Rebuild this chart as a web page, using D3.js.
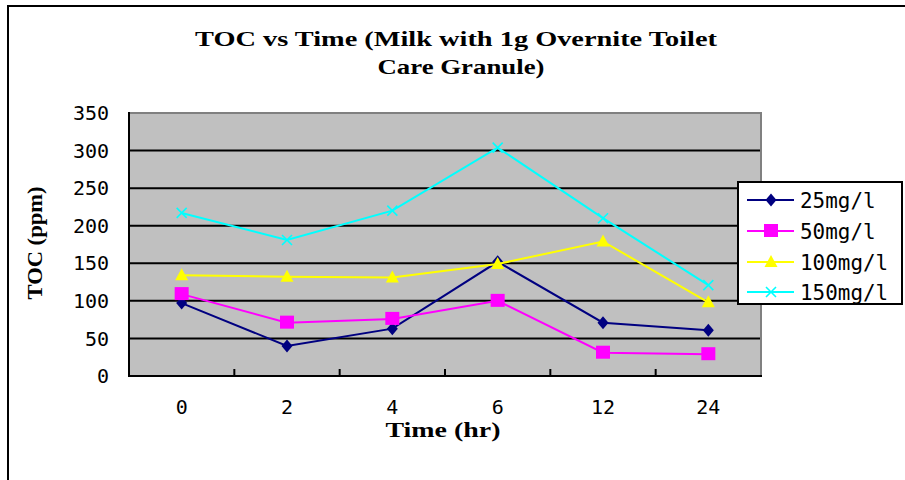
<!DOCTYPE html>
<html>
<head>
<meta charset="utf-8">
<script src="https://cdn.jsdelivr.net/npm/d3@7"></script>
<style>
  html, body { margin: 0; padding: 0; background: #fff; }
  svg { display: block; }
</style>
</head>
<body>
<svg id="chart" width="905" height="480"></svg>
<script>
// Sampling times (hours) and TOC readings (ppm) per dose
const times = ["0", "2", "4", "6", "12", "24"];
const seriesNames = ["25mg/l", "50mg/l", "100mg/l", "150mg/l"];
const toc25 = [97, 40, 63, 152, 71, 61];
const toc50 = [109, 71, 76, 100, 31, 29];
const toc100 = [134, 132, 131, 149, 179, 98];
const toc150 = [217, 181, 220, 304, 210, 121];
const yTicks = [0, 50, 100, 150, 200, 250, 300, 350];

const seriesValues = [toc25, toc50, toc100, toc150];
const colors = ["#000080", "#FF00FF", "#FFFF00", "#00FFFF"];
const markers = ["diamond", "square", "triangle", "cross"];

const svg = d3.select("#chart");

// outer chart frame (top and left edges visible)
svg.append("line").attr("x1", 7).attr("x2", 905).attr("y1", 6).attr("y2", 6)
  .attr("stroke", "#000").attr("stroke-width", 2);
svg.append("line").attr("x1", 8).attr("x2", 8).attr("y1", 5).attr("y2", 480)
  .attr("stroke", "#000").attr("stroke-width", 2);

const plot = { left: 129, right: 761, top: 113, bottom: 376 };

const x = d3.scaleBand().domain(times).range([plot.left, plot.right]).padding(0);
const y = d3.scaleLinear().domain([0, 350]).range([plot.bottom, plot.top]);

// plot background
svg.append("rect")
  .attr("x", plot.left).attr("y", plot.top)
  .attr("width", plot.right - plot.left).attr("height", plot.bottom - plot.top)
  .attr("fill", "#C0C0C0");

// horizontal gridlines
svg.append("g").selectAll("line")
  .data(yTicks.filter(v => v > 0 && v < 350))
  .join("line")
  .attr("x1", plot.left).attr("x2", plot.right)
  .attr("y1", d => y(d)).attr("y2", d => y(d))
  .attr("stroke", "#000").attr("stroke-width", 2);

// top and right plot edges (grey)
svg.append("line").attr("x1", plot.left).attr("x2", plot.right + 1)
  .attr("y1", plot.top).attr("y2", plot.top)
  .attr("stroke", "#808080").attr("stroke-width", 2);
svg.append("line").attr("x1", plot.right).attr("x2", plot.right)
  .attr("y1", plot.top).attr("y2", plot.bottom)
  .attr("stroke", "#808080").attr("stroke-width", 2);

// x-axis ticks between categories (pointing into the plot)
svg.append("g").selectAll("line")
  .data(times.slice(1))
  .join("line")
  .attr("x1", d => x(d)).attr("x2", d => x(d))
  .attr("y1", plot.bottom).attr("y2", plot.bottom - 7)
  .attr("stroke", "#000").attr("stroke-width", 2);

// axis lines
svg.append("line").attr("x1", plot.left).attr("x2", plot.left)
  .attr("y1", plot.top - 1).attr("y2", plot.bottom + 1)
  .attr("stroke", "#000").attr("stroke-width", 2);
svg.append("line").attr("x1", plot.left - 1).attr("x2", plot.right + 1)
  .attr("y1", plot.bottom).attr("y2", plot.bottom)
  .attr("stroke", "#000").attr("stroke-width", 2);

// y tick labels
svg.append("g").selectAll("text")
  .data(yTicks)
  .join("text")
  .attr("x", 109).attr("y", d => y(d))
  .attr("dy", "0.36em")
  .attr("text-anchor", "end")
  .attr("font-family", "DejaVu Sans Mono")
  .attr("font-size", 20)
  .attr("fill", "#000")
  .text(d => d);

// x tick labels
svg.append("g").selectAll("text")
  .data(times)
  .join("text")
  .attr("x", d => x(d) + x.bandwidth() / 2).attr("y", 414)
  .attr("text-anchor", "middle")
  .attr("font-family", "DejaVu Sans Mono")
  .attr("font-size", 20)
  .attr("fill", "#000")
  .text(d => d);

// titles
const boldFont = "Liberation Serif";
svg.append("text").attr("x", 456).attr("y", 46)
  .attr("text-anchor", "middle").attr("font-family", boldFont)
  .attr("font-weight", "bold").attr("font-size", 20)
  .attr("textLength", 522).attr("lengthAdjust", "spacingAndGlyphs")
  .text("TOC vs Time (Milk with 1g Overnite Toilet");
svg.append("text").attr("x", 461).attr("y", 74)
  .attr("text-anchor", "middle").attr("font-family", boldFont)
  .attr("font-weight", "bold").attr("font-size", 20)
  .attr("textLength", 167).attr("lengthAdjust", "spacingAndGlyphs")
  .text("Care Granule)");
svg.append("text").attr("x", 443).attr("y", 437)
  .attr("text-anchor", "middle").attr("font-family", boldFont)
  .attr("font-weight", "bold").attr("font-size", 20)
  .attr("textLength", 115).attr("lengthAdjust", "spacingAndGlyphs")
  .text("Time (hr)");
svg.append("text")
  .attr("transform", "translate(42,243) rotate(-90)")
  .attr("text-anchor", "middle").attr("font-family", boldFont)
  .attr("font-weight", "bold").attr("font-size", 21)
  .attr("textLength", 113).attr("lengthAdjust", "spacingAndGlyphs")
  .text("TOC (ppm)");

// marker drawing
function drawMarker(g, type, color) {
  if (type === "diamond") {
    g.append("path").attr("d", "M0,-6.5 L5.5,0 L0,6.5 L-5.5,0 Z").attr("fill", color);
  } else if (type === "square") {
    g.append("rect").attr("x", -7).attr("y", -7).attr("width", 14).attr("height", 13).attr("fill", color);
  } else if (type === "triangle") {
    g.append("path").attr("d", "M0,-7 L6.5,5 L-6.5,5 Z").attr("fill", color);
  } else {
    g.append("path").attr("d", "M-5,-5 L5,5 M-5,5 L5,-5")
      .attr("stroke", color).attr("stroke-width", 1.6).attr("fill", "none");
  }
}

const line = d3.line()
  .x((d, i) => x(times[i]) + x.bandwidth() / 2)
  .y(d => y(d));

seriesValues.forEach((vals, si) => {
  const g = svg.append("g");
  g.append("path")
    .attr("d", line(vals))
    .attr("fill", "none")
    .attr("stroke", colors[si])
    .attr("stroke-width", 2);
  vals.forEach((v, i) => {
    const m = g.append("g")
      .attr("transform", `translate(${x(times[i]) + x.bandwidth() / 2},${y(v)})`);
    drawMarker(m, markers[si], colors[si]);
  });
});

// legend
const legend = svg.append("g");
legend.append("rect")
  .attr("x", 738).attr("y", 182).attr("width", 164).attr("height", 122)
  .attr("fill", "#fff").attr("stroke", "#000").attr("stroke-width", 2);
const legendY = [200, 231, 262, 292];
seriesNames.forEach((name, si) => {
  const ly = legendY[si];
  legend.append("line")
    .attr("x1", 747).attr("x2", 794).attr("y1", ly).attr("y2", ly)
    .attr("stroke", colors[si]).attr("stroke-width", 2);
  const m = legend.append("g").attr("transform", `translate(771,${ly})`);
  drawMarker(m, markers[si], colors[si]);
  legend.append("text")
    .attr("x", 800).attr("y", ly).attr("dy", "0.36em")
    .attr("font-family", "DejaVu Sans Mono").attr("font-size", 21)
    .attr("textLength", name.length * 12.6).attr("lengthAdjust", "spacingAndGlyphs")
    .attr("fill", "#000")
    .text(name);
});
</script>
</body>
</html>
